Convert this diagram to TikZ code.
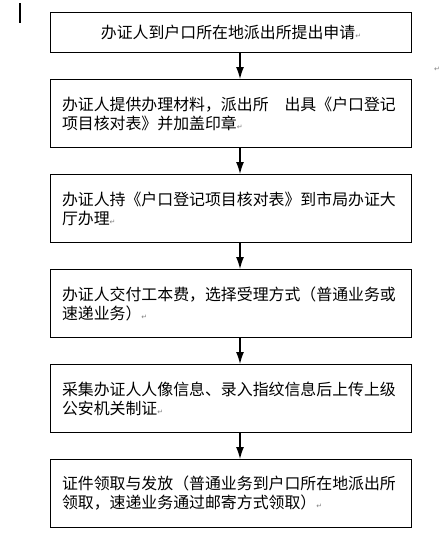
\documentclass[tikz,border=0pt]{standalone}
\usepackage{fontspec}
\usepackage{xcolor}
\newfontfamily\cjk{Noto Sans CJK SC}
\newfontfamily\markfont{DejaVu Sans}
\usetikzlibrary{arrows.meta}
\newcommand{\parmark}{{\markfont\fontsize{7}{7}\selectfont\color{gray}↵}}

\begin{document}
\begin{tikzpicture}[x=1pt,y=-1pt,
  block/.style={draw=black, line width=1pt, rectangle, anchor=north west, minimum width=361pt, minimum height=68pt, inner xsep=11pt, text width=338pt, align=left, font=\cjk\fontsize{15.9}{19}\selectfont},
  flow/.style={-{Latex[length=12pt,width=8pt]}, line width=1.2pt}]
\useasboundingbox (0,0) rectangle (443,539);
\node[block, minimum height=40pt, align=center] (1) at (50,12)  {办证人到户口所在地派出所提出申请\parmark\hspace*{12pt}};
\node[block] (2) at (50,79)  {办证人提供办理材料，派出所　出具《户口登记\\项目核对表》并加盖印章\parmark};
\node[block] (3) at (50,174) {办证人持《户口登记项目核对表》到市局办证大\\厅办理\parmark};
\node[block] (4) at (50,269) {办证人交付工本费，选择受理方式（普通业务或\\速递业务）\parmark};
\node[block] (5) at (50,364) {采集办证人人像信息、录入指纹信息后上传上级\\公安机关制证\parmark};
\node[block] (6) at (50,459) {证件领取与发放（普通业务到户口所在地派出所\\领取，速递业务通过邮寄方式领取）\parmark};
\node[inner sep=0pt] (7) at (437,69) {\parmark};
\draw[line width=2.5pt] (20,3) -- (20,23);
\draw[flow] ([xshift=9pt]1.south) -- ([xshift=9pt]2.north);
\draw[flow] ([xshift=9pt]2.south) -- ([xshift=9pt]3.north);
\draw[flow] ([xshift=9pt]3.south) -- ([xshift=9pt]4.north);
\draw[flow] ([xshift=9pt]4.south) -- ([xshift=9pt]5.north);
\draw[flow] ([xshift=9pt]5.south) -- ([xshift=9pt]6.north);
\end{tikzpicture}
\end{document}
